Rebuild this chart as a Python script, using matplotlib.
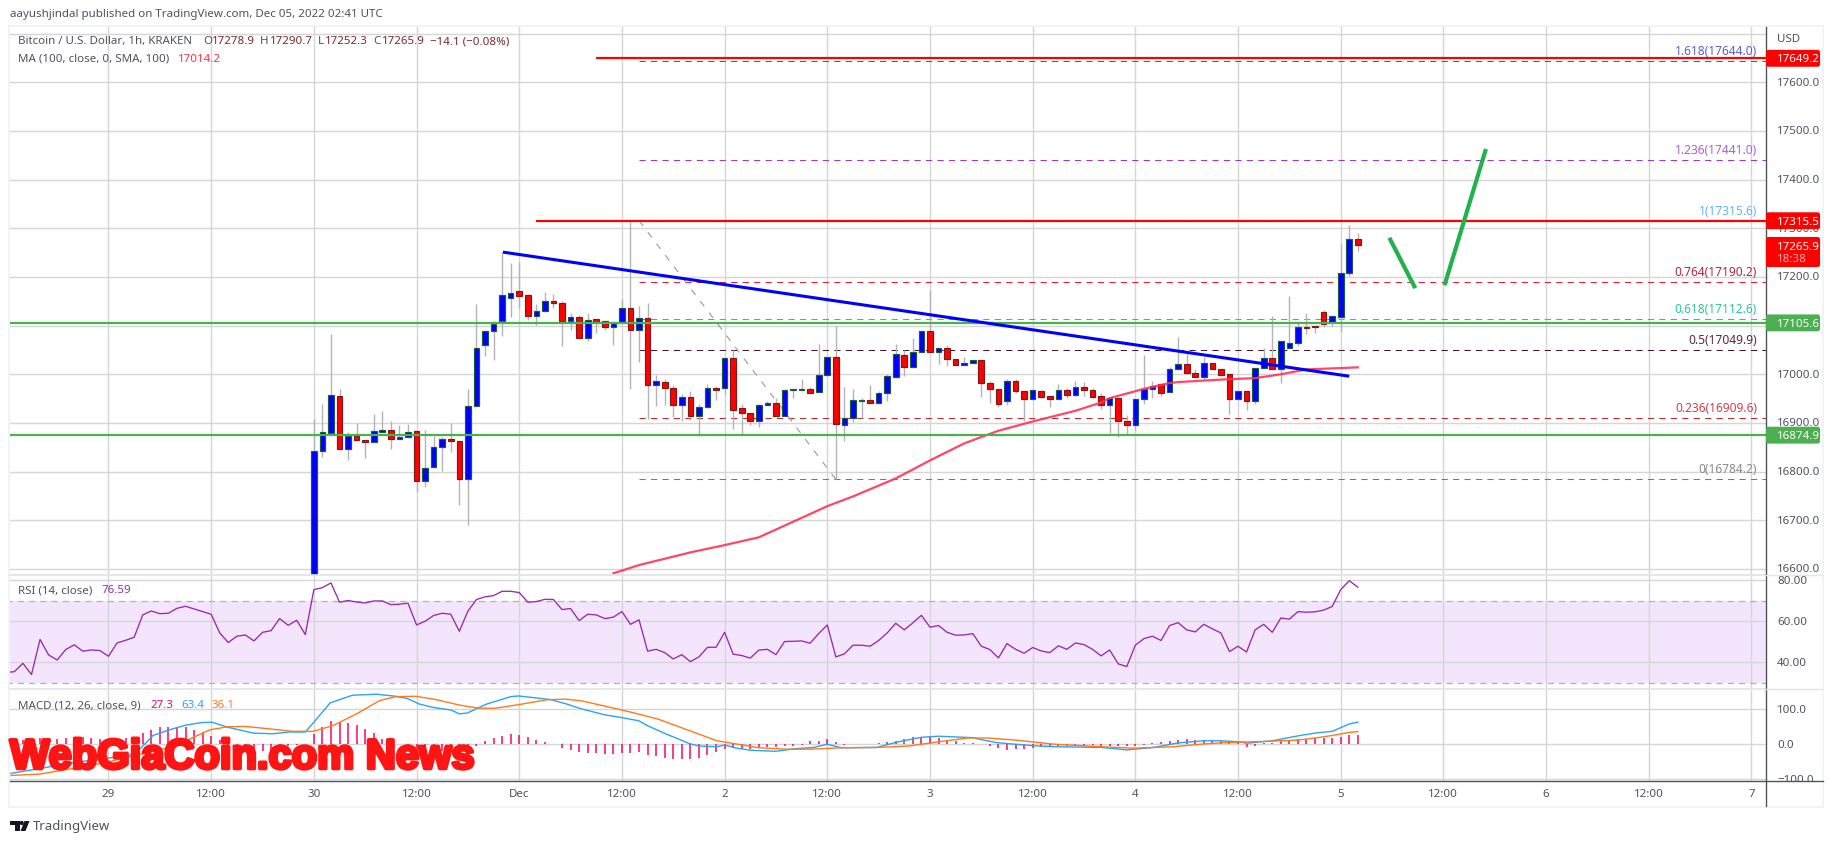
import numpy as np
import matplotlib
matplotlib.use("Agg")
import matplotlib.pyplot as plt
from matplotlib.patches import Rectangle, Polygon, Circle, FancyBboxPatch
from matplotlib.transforms import Bbox
import matplotlib.patheffects as pe

plt.rcParams['font.family'] = ['Noto Sans', 'DejaVu Sans']

# ---------- data ----------
# hourly candles, first one is Nov 30 00:00 (hours counted from Nov 29 00:00)
first_hour = 24
opens = [16500,16843,16880,16955,16846,16873,16864,16860,16882,16885,16866,16871,16883,16780,16809,16850,16866,16862,16784,16934,
         17061,17088,17109,17156,17171,17162,17119,17129,17150,17146,17109,17117,17074,17113,17109,17097,17107,17136,17090,17115,
         16977,16985,16971,16936,16953,16914,16932,16972,16971,17033,16931,16920,16903,16936,16940,16915,16967,16968,16969,16963,
         16998,17035,16895,16910,16946,16947,16940,16961,16995,17039,17014,17045,17088,17045,17055,17031,17020,17023,17029,16982,
         16969,16945,16986,16965,16949,16965,16955,16949,16967,16957,16973,16967,16955,16936,16951,16903,16895,16949,16969,16979,
         16963,17010,17021,17002,16995,17023,17010,17000,16949,16965,16946,17012,17033,17010,17055,17064,17097,17099,17127,17108,
         17117,17208,17278.9]
closes = [16842,16881,16957,16846,16874,16864,16860,16883,16885,16866,16871,16881,16780,16807,16850,16867,16862,16784,16934,17055,
          17088,17103,17162,17166,17160,17119,17129,17150,17146,17109,17117,17074,17111,17107,17097,17105,17136,17090,17115,16977,
          16986,16971,16936,16953,16914,16932,16971,16968,17033,16927,16921,16903,16936,16940,16915,16967,16969,16969,16962,16998,
          17035,16897,16910,16947,16947,16942,16961,16996,17041,17014,17045,17088,17045,17055,17031,17020,17023,17029,16982,16969,
          16938,16986,16965,16949,16967,16953,16949,16967,16957,16973,16967,16954,16936,16951,16905,16895,16949,16969,16975,16962,
          17010,17021,17002,16995,17023,17010,16999,16949,16965,16946,17012,17033,17010,17068,17064,17097,17096,17098,17103,17119,
          17208,17278.9,17265.9]
highs = [16908,16939,17083,16970,16881,16900,16864,16918,16925,16903,16895,16898,16883,16886,16874,16871,16900,16862,16970,17145,
         17088,17110,17251,17229,17230,17165,17145,17169,17165,17150,17126,17122,17126,17113,17109,17109,17155,17315.6,17140,17146,
         16999,16990,16978,16960,16965,16939,16980,16975,17033,17050,16939,16920,16939,16946,16951,16970,16969,16990,16973,17062,
         17035,17100,16973,16970,16951,16978,16965,17000,17062,17049,17074,17088,17174,17055,17060,17031,17035,17029,17029,16986,
         16969,16990,16990,16965,16967,16967,16955,16980,16971,16986,16984,16971,16961,16951,16951,16916,16949,17040,16986,16979,
         17014,17077,17045,17011,17035,17023,17010,17000,16965,16965,17012,17055,17119,17068,17160,17109,17126,17099,17132,17119,
         17268,17307,17290.7]
lows = [16480,16831,16880,16846,16823,16864,16827,16860,16882,16847,16866,16871,16759,16769,16809,16802,16841,16732,16691,16934,
        17038,17030,17079,17117,17136,17112,17102,17129,17136,17059,17090,17074,17069,17085,17090,17060,17107,16970,17026,16908,
        16934,16936,16912,16903,16907,16873,16932,16948,16960,16888,16877,16895,16891,16936,16915,16915,16951,16968,16962,16963,
        16998,16784.2,16862,16901,16910,16942,16940,16946,16992,16997,17014,17045,17045,17021,17018,17020,17020,17023,16954,16941,
        16932,16937,16961,16905,16949,16953,16932,16949,16952,16955,16956,16951,16929,16879,16872,16876,16886,16938,16951,16956,
        16963,17010,17002,16995,16988,17010,16999,16918,16949,16927,16938,17012,17010,16982,17055,17058,17082,17084,17098,17100,
        17086,17201,17252.3]

ma_hours = [59,62,68,72,76,80,84,87,92,96,100,104,108,113,116,117,121,124,125,131,134,137,140,146]
ma_vals = [16591,16608,16634,16649,16665,16697,16729,16749,16786,16823,16858,16884,16903,16925,16942,16951,16970,16982,16984,16990,16992,17000,17010,17014.2]

rsi_start = -12
rsi = [35,35.4,39.5,34,51.1,43.6,41.1,46.2,48.5,45.4,46,
       45.7,42.9,49.4,50.7,52.2,63.1,65,63.7,63.9,66.3,
       67.3,66,64.7,63.4,54.3,49.6,52.7,53.3,50.4,54.6,
       55.4,61.3,58,60.5,53.5,75.4,76.4,78.7,69.3,70.1,
       69.4,68.9,69.9,69.9,68.1,68.3,68.8,58.2,60,62.8,
       63.9,63.4,55.1,64.9,70.6,71.9,72.5,74.6,74.6,74,
       69.3,69.6,70.7,70.6,65.7,66.2,60.3,63.4,63.1,61.3,62,
       64.7,58.5,60.7,45.4,46.3,44.7,41.6,43.7,40.3,42.6,47.3,47.3,54.6,
       43.9,43.3,42,45.9,46.3,43.7,50.1,50.2,50.4,49.3,54,58.2,
       42.6,44.1,48.3,48.3,47.8,50.6,54.3,59,55.8,59.2,62.9,
       57.1,57.9,54.6,53.2,53.3,54,47.8,46.2,42.1,49.1,46.3,44.4,
       47.2,45.5,44.7,48,46.3,49.4,48.6,46.3,43.1,46,39.2,37.9,
       48.3,51.5,52.7,50.6,57.9,59.3,55.8,54.8,58.5,56.3,54.3,45.2,
       47.8,45,55.8,58.5,54.6,61.6,61,64.7,64.4,64.6,65.4,67.2,75.4,79.8,76.59]

hist_start = -11
macd_hist = [15,13,15,18,18,15,18,20,20,18,
             15,15,15,18,22,32,41,48,48,50,
             48,41,34,25,12,-2,-10,-15,-18,-18,
             -16,-9,-4,-2,2,30,49,66,63,61,
             55,44,32,15,6,0,-7,-13,-13,-13,
             -18,-18,-21,-18,-4,9,18,24,30,27,
             21,11,7,0,-10,-17,-22,-24,-26,-27,-28,
             -24,-25,-22,-30,-33,-39,-42,-42,-42,-39,-30,-23,
             -13,-11,-13,-13,-7,-7,-7,-5,-4,-1,
             8,10,15,7,-1,1,1,1,4,7,
             10,14,20,20,20,18,11,10,4,4,
             0,-4,-10,-15,-13,-13,-11,-9,-7,-5,
             -5,-4,-4,-3,-4,-5,-5,-6,-6,-3,
             3,6,10,12,14,12,12,12,10,9,
             4,-7,-4,3,5,9,12,15,15,18,17,18,22,27,27.3]

macd_hours = [-11.4,-8,-3.4,-0.2,3.1,5.2,7.2,9.1,10.9,12.1,13.9,16.9,19.2,21.1,23,24,25.9,28.5,31.3,33.6,34.9,36.3,38,40,41,41.9,44.2,47,47.9,51.6,53.4,55.3,58,59.8,
              62,63,65.3,68,69,71.1,72,73.2,75,78,80.1,82.4,84,85.7,89.8,92.1,95,97,100.9,103.7,106,108,110.6,116,119,122.2,125,128,130,132.2,133,136,139,141,143,145,146]
macd_vals = [-83,-69,-50,-40,-28,25,42,55,62,63,49,32,30,35,35,63,118,140,143,137,131,115,105,98,87,89,115,136,138,128,116,101,84,77,
             67,53,28,1,-5,-7,-2,-10,-17,-20,-13,-9,0,-10,-9,6,20,23,19,5,0,-4,-7,-9,-16,-9,4,10,10,7,3,10,24,32,37,58,63.4]
signal_hours = [-11.4,-8,-3.4,-0.2,3.1,7.2,9.5,11.8,13.9,16,18.8,21.5,23.9,26.2,29,31.7,33.6,35.9,38.2,41,43.3,45.2,47.9,51.2,53.4,55.3,58,59.8,
                62,64.2,68,71.1,73.6,76,79.2,82,85.7,89.8,93.5,96.7,100.4,102.7,106,110.6,115.2,119.8,124.5,128,130,132,136,139,141,143,145,146]
signal_vals = [-89,-85,-66,-51,-32,-9,15,41,50,51,44,37,37,53,87,125,136,137,128,112,103,103,113,127,129,124,109,99,
               86,72,38,10,0,-10,-14,-14,-10,-9,-5,6,18,18,12,0,-6,-11,-7,1,4,6,9,12,18,25,34,36.1]

price_ticks = [17700,17600,17500,17400,17300,17200,17100,17000,16900,16800,16700,16600]
price_tick_labels = ["17600.0","17500.0","17400.0","17300.0","17200.0","17000.0","16900.0","16800.0","16700.0","16600.0"]
price_tick_vals = [17600,17500,17400,17300,17200,17000,16900,16800,16700,16600]
rsi_ticks = [80,60,40]
macd_ticks = [100,0,-100]
time_ticks = list(range(0,193,12))
time_labels = ["29","12:00","30","12:00","Dec","12:00","2","12:00","3","12:00","4","12:00","5","12:00","6","12:00","7"]

fib_levels = [1.618,1.236,1,0.764,0.618,0.5,0.236,0]
fib_prices = [17644.0,17441.0,17315.6,17190.2,17112.6,17049.9,16909.6,16784.2]
fib_names = ["1.618","1.236","1","0.764","0.618","0.5","0.236","0"]
fib_colors = ["#4a4fd8","#a035cf","#5fb0e6","#e8202e","#22c795","#4a1530","#c62828","#787878"]
fib_text_colors = ["#5a5fd8","#ab5fd6","#64b5e6","#b4283a","#2cc79a","#5a2a3c","#d0404a","#8a8a8a"]
fib_start_hour = 62
fib_diag_hours = [62,85]
fib_diag_prices = [17315.6,16784.2]

res_prices = [17649.2,17315.5]
res_start_hours = [57,50]
sup_prices = [17105.6,16874.9]

trend_hours = [46.1,145]
trend_prices = [17251,16996]
arrow1_hours = [149.8,152.6]
arrow1_prices = [17276.6,17180.8]
arrow2_hours = [156.2,160.9]
arrow2_prices = [17187,17458.8]

# ---------- layout ----------
W, H = 1834, 845
fig = plt.figure(figsize=(W/100, H/100), dpi=100, facecolor="white")
L, R = 10, 1766
def make_ax(top, bot):
    ax = fig.add_axes([L/W, 1-bot/H, (R-L)/W, (bot-top)/H])
    ax.set_xlim(-11.51, 193.7)
    ax.set_xticks([]); ax.set_yticks([])
    for s in ax.spines.values():
        s.set_visible(False)
    return ax
GRID = "#d6d6d8"
axp = make_ax(27, 575.5);  axp.set_ylim(16588.6, 17715.6)
axr = make_ax(575.5, 690.3); axr.set_ylim(26.8, 82.8)
axm = make_ax(690.3, 782.3); axm.set_ylim(-105.7, 157)
for ax, ys in ((axp, price_ticks), (axr, rsi_ticks), (axm, macd_ticks)):
    ax.hlines(ys, -12, 194, color=GRID, lw=1.0, zorder=1)
    ax.vlines(time_ticks, ax.get_ylim()[0], ax.get_ylim()[1], color=GRID, lw=1.0, zorder=1)

# price pane
hours = first_hour + np.arange(len(opens))
axp.vlines(hours, lows, highs, color="#b4b4b4", lw=1.0, zorder=3)
o = np.array(opens); c = np.array(closes)
up = c >= o
axp.bar(hours[up], (c-o)[up], bottom=o[up], width=0.66, color="#0000ff", edgecolor="#1e5b3c", lw=0.85, zorder=4)
axp.bar(hours[~up], (c-o)[~up], bottom=o[~up], width=0.66, color="#ff0000", edgecolor="#7a1c1c", lw=0.85, zorder=4)
axp.plot(ma_hours, ma_vals, color="#ff3355", lw=1.6, zorder=5, alpha=0.9)
for p, col in zip(fib_prices, fib_colors):
    axp.plot([fib_start_hour, 194], [p, p], color=col, lw=0.75, dashes=(6, 5), zorder=2.5)
axp.plot(fib_diag_hours, fib_diag_prices, color="#9a9a9a", lw=0.8, dashes=(6, 7), zorder=2.5)
for p, s in zip(res_prices, res_start_hours):
    axp.plot([s, 194], [p, p], color="#ff0000", lw=1.6, zorder=6, solid_capstyle="butt")
for p in sup_prices:
    axp.plot([-12, 194], [p, p], color="#4caf50", lw=1.6, zorder=6, solid_capstyle="butt")
axp.plot(trend_hours, trend_prices, color="#0000ff", lw=2.2, zorder=6, solid_capstyle="butt")
axp.plot(arrow1_hours, arrow1_prices, color="#22b14c", lw=3.0, zorder=6)
axp.plot(arrow2_hours, arrow2_prices, color="#22b14c", lw=3.0, zorder=6)

# RSI pane
axr.axhspan(30, 70, color="#f3e5fc", lw=0, zorder=0)
axr.hlines([30, 70], -12, 194, color="#b7aebb", lw=0.9, linestyles=(0, (5, 4)), zorder=2)
axr.plot(rsi_start + np.arange(len(rsi)), rsi, color="#9c27b0", lw=0.95, zorder=3)

# MACD pane
mh = hist_start + np.arange(len(macd_hist))
axm.vlines(mh, 0, macd_hist, color="#f50a62", lw=1.1, zorder=3)
axm.plot(macd_hours, macd_vals, color="#2aa4f4", lw=1.0, zorder=4)
axm.plot(signal_hours, signal_vals, color="#ff7a1a", lw=1.0, zorder=4)

# overlay in pixel coordinates
ov = fig.add_axes([0, 0, 1, 1], zorder=10)
ov.set_xlim(0, W); ov.set_ylim(H, 0); ov.axis("off"); ov.patch.set_alpha(0)

FRAME = "#f0f3fa"
ov.add_patch(Rectangle((8, 26), 1816, 2.2, color=FRAME, lw=0))
ov.add_patch(Rectangle((8, 26), 2.2, 783, color=FRAME, lw=0))
ov.add_patch(Rectangle((1821.8, 26), 2.2, 783, color=FRAME, lw=0))
ov.add_patch(Rectangle((8, 806.8), 1816, 2.2, color=FRAME, lw=0))
ov.plot([L, R], [575.5, 575.5], color="#e4e4ee", lw=1.3)
ov.plot([L, R], [690.3, 690.3], color="#e4e4ee", lw=1.3)
ov.plot([L, 1823], [782.3, 782.3], color="#50535e", lw=1.0)
ov.plot([R, R], [27.5, 807], color="#50535e", lw=1.0)
ov.plot([R, 1822], [575.5, 575.5], color="#e4e4ee", lw=1.0)
ov.plot([R, 1822], [690.3, 690.3], color="#e4e4ee", lw=1.0)

TXT = "#50535e"
FS = 8.3
def px_y(ax, v):
    return H - ax.transData.transform((0, v))[1]
def label(x, y, s, color=TXT, ha="left", size=FS, **kw):
    return ov.text(x, y, s, color=color, ha=ha, va="center", fontsize=size, **kw)

# axis labels
for v, s in zip(price_tick_vals, price_tick_labels):
    label(1777, px_y(axp, v), s)
for v in rsi_ticks:
    label(1777, px_y(axr, v), f"{v:.2f}")
for v in macd_ticks:
    t = label(1777, px_y(axm, v), f"{v:.1f}".replace("-", "\u2212"))
    if v == -100:
        t.set_clip_box(Bbox([[1770, H-782], [1830, H-770]]))
        t.set_clip_on(True)
label(1777, 40, "USD")
for h, s in zip(time_ticks, time_labels):
    x = axp.transData.transform((h, 0))[0]
    label(x, 795, s, ha="center")

# price tags
def tag(y0, y1, color):
    ov.add_patch(FancyBboxPatch((R+1, y0+1), 52, y1-y0-2, boxstyle="round,pad=0,rounding_size=1.5", fc=color, ec=color, lw=1.5, zorder=4))
for p, col in [(res_prices[0], "#ff0000"), (res_prices[1], "#ff0000"), (sup_prices[0], "#4caf50"), (sup_prices[1], "#4caf50")]:
    y = px_y(axp, p)
    tag(y-8.4, y+8.4, col)
    label(1777, y+0.5, f"{p:.1f}", color="white", fontweight="bold", zorder=5)
tag(238, 268, "#ff0000")
label(1777, 247, f"{closes[-1]:.1f}", color="white", fontweight="bold", zorder=5)
label(1777, 260, "18:38", color="#ffb0b0", fontweight="bold", zorder=5)

# fib labels
for p, n, col in zip(fib_prices, fib_names, fib_text_colors):
    y = px_y(axp, p)
    label(1757, y-10.5, f"{n}({p:.1f})", color=col, ha="right", size=8.6)

# legends
label(10, 15, "aayushjindal published on TradingView.com, Dec 05, 2022 02:41 UTC", color="#50535e", size=8.3)
label(18, 41.5, "Bitcoin / U.S. Dollar, 1h, KRAKEN")
DR = "#7a2a2a"
for xl, xv, ltr, val in [(203, 212, "O", "17278.9"), (260, 270, "H", "17290.7"), (318, 325, "L", "17252.3"), (373, 382, "C", "17265.9")]:
    label(xl, 41.5, ltr)
    label(xv, 41.5, val, color=DR)
label(430, 41.5, "\u221214.1 (\u22120.08%)", color=DR)
label(18, 59, "MA (100, close, 0, SMA, 100)")
label(178, 59, "17014.2", color="#ff3344")
label(18, 591, "RSI (14, close)")
label(102, 591, "76.59", color="#9c27b0")
label(18, 705.7, "MACD (12, 26, close, 9)")
label(150.6, 705.7, "27.3", color="#f50a62")
label(181.5, 705.7, "63.4", color="#2aa4f4")
label(211.5, 705.7, "36.1", color="#ff7a1a")

# watermark
ov.text(10, 758.5, "WebGiaCoin.com News", color="#ff1414", fontsize=30, fontweight="bold",
        family=["Liberation Sans", "DejaVu Sans"], ha="left", va="center", zorder=8,
        path_effects=[pe.withStroke(linewidth=2.6, foreground="#ff1414")])

# footer logo
LOGO = "#131722"
ov.add_patch(Rectangle((10, 822), 9.5, 4, color=LOGO, lw=0))
ov.add_patch(Rectangle((14.7, 826), 4.8, 6, color=LOGO, lw=0))
ov.add_patch(Circle((21.7, 824), 2.1, color=LOGO, lw=0))
ov.add_patch(Polygon([[24.5, 822], [29.5, 822], [25.5, 832], [20.5, 832]], color=LOGO, lw=0))
label(33, 827, "TradingView", color="#50535e", size=9.5)

fig.savefig("out.png", dpi=100, facecolor="white")
